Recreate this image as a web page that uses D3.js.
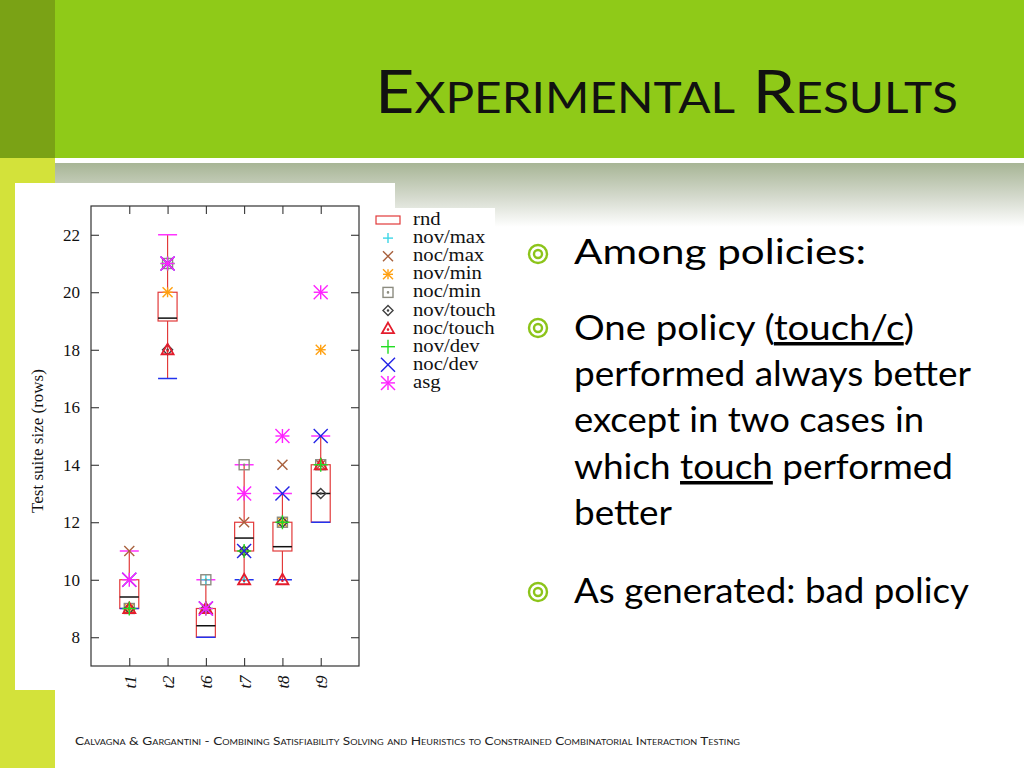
<!DOCTYPE html>
<html><head><meta charset="utf-8">
<script src="https://cdn.jsdelivr.net/npm/d3@7"></script>
<style>html,body{margin:0;padding:0;background:#fff;overflow:hidden} svg{display:block}</style>
</head><body>
<svg id="s" width="1024" height="768"></svg>
<script>
// ---------- data ----------
const categories = ["t1","t2","t6","t7","t8","t9"];
const whiskerMin = [9, 17, 8, 10, 10, 12];
const boxLow     = [9, 19, 8, 11, 11, 12];
const medianVal  = [9.4, 19.1, 8.4, 11.45, 11.15, 13];
const boxHigh    = [10, 20, 9, 12, 12, 14];
const whiskerMax = [11, 22, 10, 14, 13, 15];

const novMax   = [9, 21, 10, 10, 12, 14];
const nocMax   = [11, 21, 9, 12, 14, 14];
const novMin   = [9, 20, 9, 11, 12, 18];
const nocMin   = [9, 21, 10, 14, 12, 14];
const novTouch = [9, 18, 9, 11, 12, 13];
const nocTouch = [9, 18, 9, 10, 10, 14];
const novDev   = [9, 21, 9, 11, 12, 14];
const nocDev   = [10, 21, 9, 11, 13, 15];
const asg      = [10, 21, 9, 13, 15, 20];

const yTicks = [8, 10, 12, 14, 16, 18, 20, 22];
const legendNames = ["rnd","nov/max","noc/max","nov/min","noc/min","nov/touch","noc/touch","nov/dev","noc/dev","asg"];

const titleText = "Experimental Results";
const bulletLines = [
  [{t:"Among policies:"}],
  [{t:"One policy ("},{t:"touch/c",u:true},{t:")"}],
  [{t:"performed always better"}],
  [{t:"except in two cases in"}],
  [{t:"which "},{t:"touch",u:true},{t:" performed"}],
  [{t:"better"}],
  [{t:"As generated: bad policy"}]
];
const footerText = "Calvagna & Gargantini - Combining Satisfiability Solving and Heuristics to Constrained Combinatorial Interaction Testing";

// ---------- slide background ----------
const svg = d3.select("#s");
const defs = svg.append("defs");
const grad = defs.append("linearGradient").attr("id","band").attr("x1",0).attr("y1",0).attr("x2",0).attr("y2",1);
grad.append("stop").attr("offset","0%").attr("stop-color","#a7b595");
grad.append("stop").attr("offset","55%").attr("stop-color","#d6dbcf");
grad.append("stop").attr("offset","100%").attr("stop-color","#ffffff");

svg.append("rect").attr("x",0).attr("y",0).attr("width",1024).attr("height",768).attr("fill","#fff");
svg.append("rect").attr("x",55).attr("y",163).attr("width",969).attr("height",64).attr("fill","url(#band)");
svg.append("rect").attr("x",0).attr("y",0).attr("width",55).attr("height",158).attr("fill","#7aa215");
svg.append("rect").attr("x",55).attr("y",0).attr("width",969).attr("height",158).attr("fill","#8fca18");
svg.append("rect").attr("x",0).attr("y",158).attr("width",55).attr("height",610).attr("fill","#d3e23a");

// title
svg.append("text").attr("x",958).attr("y",113).attr("text-anchor","end")
  .attr("font-family","Lato, 'Open Sans', sans-serif").attr("font-size",60)
  .style("font-variant","small-caps").attr("fill","#111")
  .attr("textLength",583).attr("lengthAdjust","spacingAndGlyphs")
  .text(titleText);

// bullets text
const baselines = [264, 340, 386, 432, 479, 525, 603];
const widths = [292, 340, 397, 350, 379, 98, 395];
bulletLines.forEach((parts,i)=>{
  const t = svg.append("text").attr("x",574).attr("y",baselines[i])
    .attr("font-family","Lato, 'Open Sans', sans-serif").attr("font-size",35).attr("fill","#000")
    .attr("textLength",widths[i]).attr("lengthAdjust","spacingAndGlyphs");
  parts.forEach(p=>{
    const ts = t.append("tspan").text(p.t);
    if(p.u) ts.style("text-decoration","underline");
  });
});
[254, 328, 592].forEach(cy=>{
  svg.append("circle").attr("cx",538).attr("cy",cy).attr("r",9).attr("fill","none").attr("stroke","#8cc41a").attr("stroke-width",2.4);
  svg.append("circle").attr("cx",538).attr("cy",cy).attr("r",4).attr("fill","none").attr("stroke","#8cc41a").attr("stroke-width",2.4);
});

// footer
svg.append("text").attr("x",75).attr("y",745)
  .attr("font-family","Lato, 'Open Sans', sans-serif").attr("font-size",12)
  .style("font-variant","small-caps").attr("fill","#222")
  .attr("textLength",665).attr("lengthAdjust","spacingAndGlyphs")
  .text(footerText);

// ---------- chart panel ----------
svg.append("rect").attr("x",15).attr("y",183).attr("width",380).attr("height",507).attr("fill","#fff");
svg.append("rect").attr("x",395).attr("y",208).attr("width",100).attr("height",187).attr("fill","#fff");

const L=91, R=359, T=206, B=666;
const x = d3.scaleLinear().domain([0,7]).range([L,R]);
const y = d3.scaleLinear().domain([7,23]).range([B,T]);
const pos = categories.map((c,i)=>i+1);
const serif = "'Liberation Serif','DejaVu Serif',serif";
const chart = svg.append("g");

function styleAxis(g){
  g.select(".domain").remove();
  g.selectAll("line").attr("stroke","#222").attr("stroke-width",1);
  g.selectAll("text").attr("font-family",serif).attr("font-size",17).attr("fill","#111");
}
chart.append("g").attr("transform",`translate(${L},0)`)
  .call(d3.axisLeft(y).tickValues(yTicks).tickSize(-8).tickPadding(11)).call(styleAxis);
chart.append("g").attr("transform",`translate(${R},0)`)
  .call(d3.axisRight(y).tickValues(yTicks).tickSize(-8).tickFormat("")).call(styleAxis);
chart.append("g").attr("transform",`translate(0,${T})`)
  .call(d3.axisTop(x).tickValues(pos).tickSize(-8).tickFormat("")).call(styleAxis);
const bx = chart.append("g").attr("transform",`translate(0,${B})`)
  .call(d3.axisBottom(x).tickValues(pos).tickSize(-8).tickFormat(d=>categories[d-1])).call(styleAxis);
bx.selectAll("text").attr("transform","rotate(-90)").attr("x",-16).attr("y",0).attr("dy","0.35em")
  .attr("text-anchor","middle").attr("font-style","italic").attr("font-size",17);

chart.append("rect").attr("x",L).attr("y",T).attr("width",R-L).attr("height",B-T)
  .attr("fill","none").attr("stroke","#333").attr("stroke-width",1.2);

// y label
chart.append("text").attr("transform",`translate(43,${(T+B)/2+5}) rotate(-90)`)
  .attr("text-anchor","middle").attr("font-family",serif).attr("font-size",17).attr("fill","#111")
  .text("Test suite size (rows)");

// ---------- boxes ----------
const red="#e23a3a", hw=9.5;
pos.forEach((p,i)=>{
  const cx=x(p);
  chart.append("line").attr("x1",cx).attr("x2",cx).attr("y1",y(whiskerMin[i])).attr("y2",y(boxLow[i])).attr("stroke",red).attr("stroke-width",1.2);
  chart.append("line").attr("x1",cx).attr("x2",cx).attr("y1",y(boxHigh[i])).attr("y2",y(whiskerMax[i])).attr("stroke",red).attr("stroke-width",1.2);
  chart.append("rect").attr("x",cx-hw).attr("y",y(boxHigh[i])).attr("width",2*hw).attr("height",y(boxLow[i])-y(boxHigh[i]))
    .attr("fill","none").attr("stroke",red).attr("stroke-width",1.2);
  chart.append("line").attr("x1",cx-hw).attr("x2",cx+hw).attr("y1",y(medianVal[i])).attr("y2",y(medianVal[i])).attr("stroke","#111").attr("stroke-width",1.5);
  chart.append("line").attr("x1",cx-hw).attr("x2",cx+hw).attr("y1",y(whiskerMax[i])).attr("y2",y(whiskerMax[i])).attr("stroke","#ff33ff").attr("stroke-width",1.5);
  chart.append("line").attr("x1",cx-hw).attr("x2",cx+hw).attr("y1",y(whiskerMin[i])).attr("y2",y(whiskerMin[i])).attr("stroke","#2233ee").attr("stroke-width",1.5);
});

// ---------- markers ----------
function marker(g,type,cx,cy,r,color){
  const s = g.append("g").attr("stroke",color).attr("fill","none").attr("stroke-width",1.4);
  const ln=(a,b,c,d)=>s.append("line").attr("x1",cx+a).attr("y1",cy+b).attr("x2",cx+c).attr("y2",cy+d);
  if(type==="plus"||type==="star"){ ln(-r,0,r,0); ln(0,-r,0,r); }
  if(type==="cross"||type==="star"){ ln(-r,-r,r,r); ln(-r,r,r,-r); }
  if(type==="square"){ s.append("rect").attr("x",cx-r).attr("y",cy-r).attr("width",2*r).attr("height",2*r); s.append("circle").attr("cx",cx).attr("cy",cy).attr("r",0.6).attr("fill",color); }
  if(type==="diamond"){ s.append("path").attr("d",`M${cx},${cy-r}L${cx+r},${cy}L${cx},${cy+r}L${cx-r},${cy}Z`); s.append("circle").attr("cx",cx).attr("cy",cy).attr("r",0.6).attr("fill",color); }
  if(type==="triangle"){ s.append("path").attr("d",`M${cx},${cy-r}L${cx+r},${cy+r*0.75}L${cx-r},${cy+r*0.75}Z`).attr("stroke-width",1.8); s.append("circle").attr("cx",cx).attr("cy",cy+1).attr("r",0.6).attr("fill",color); }
}
const series = [
  {vals:novMax,   type:"plus",    r:5, color:"#3dd6e6"},
  {vals:nocMax,   type:"cross",   r:5, color:"#a8603c"},
  {vals:novMin,   type:"star",    r:5, color:"#ffa010"},
  {vals:nocMin,   type:"square",  r:5, color:"#8c8c80"},
  {vals:novTouch, type:"diamond", r:5, color:"#404040"},
  {vals:nocTouch, type:"triangle",r:6, color:"#e41c2c"},
  {vals:novDev,   type:"plus",    r:7, color:"#22dd22"},
  {vals:nocDev,   type:"cross",   r:7, color:"#2222e6"},
  {vals:asg,      type:"star",    r:7, color:"#ff22ff"}
];
series.forEach(sr=>{
  sr.vals.forEach((v,i)=>marker(chart,sr.type,x(pos[i]),y(v),sr.r,sr.color));
});

// ---------- legend ----------
const lg = svg.append("g");
legendNames.forEach((n,i)=>{
  const cy = 220 + i*18.1;
  if(i===0){
    lg.append("rect").attr("x",376).attr("y",cy-4).attr("width",24).attr("height",8).attr("fill","none").attr("stroke",red).attr("stroke-width",1.2);
  } else {
    const sr = series[i-1];
    marker(lg,sr.type,388,cy,sr.r,sr.color);
  }
  lg.append("text").attr("transform",`translate(413,${cy+5}) scale(1.15,1)`)
    .attr("font-family",serif).attr("font-size",18).attr("fill","#111").text(n);
});
</script>
</body></html>
